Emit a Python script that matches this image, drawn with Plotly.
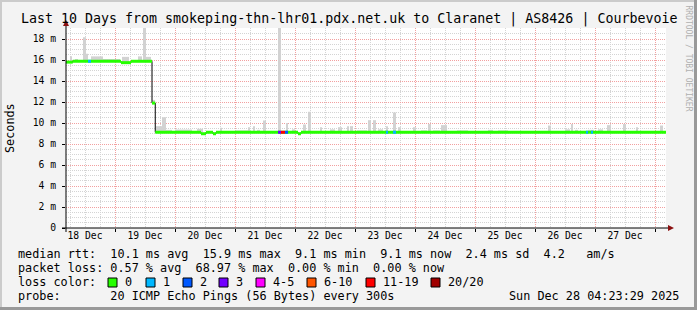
import plotly.graph_objects as go
from datetime import datetime, timedelta

# ---------------- data ----------------
START = datetime(2025, 12, 18, 4, 23, 29)
SPAN_H = 240  # 10 days

day_labels = ["18 Dec", "19 Dec", "20 Dec", "21 Dec", "22 Dec",
              "23 Dec", "24 Dec", "25 Dec", "26 Dec", "27 Dec"]
y_ticks = [0, 2, 4, 6, 8, 10, 12, 14, 16, 18]
y_tick_text = ["0", "2 m", "4 m", "6 m", "8 m", "10 m", "12 m", "14 m", "16 m", "18 m"]

# median rtt step series: hour offset (from START) where value begins, value in ms
median_hours = [0, 2.7, 22, 26, 34.4, 35.7, 54, 56, 58.8, 60, 92.8, 94]
median_ms = [15.80, 15.88, 15.75, 15.88, 11.9, 9.12, 8.98, 9.12, 8.98, 9.12, 8.98, 9.12]

# loss periods (hours) and lost pings out of 20
loss_start_h = [8.8, 84.8, 86.0, 87.6, 128.0, 130.8, 208.0, 210.0]
loss_end_h = [10.0, 86.0, 87.6, 88.8, 128.8, 132.0, 208.8, 210.8]
loss_pings = [1, 3, 14, 2, 1, 1, 1, 1]

# smoke (max of pings) periods: start hour, end hour, top value ms
smoke_start_h = [1.6, 3.6, 6.8, 8.0, 10.0, 14.8, 22.4, 28.8, 30.8, 32.0, 34.4,
                 36.0, 38.4, 40.0, 43.6, 52.4, 61.6, 67.6, 72.8, 74.8, 76.4, 78.8,
                 84.8, 88.0, 90.4, 94.8, 96.8, 101.6, 105.6, 108.8, 112.4, 113.6,
                 116.4, 120.8, 122.8, 124.8, 128.0, 130.8, 132.8, 138.8, 142.0,
                 144.8, 146.8, 150.0, 156.4, 168.8, 172.8, 186.0, 192.8, 194.8,
                 199.6, 202.0, 203.6, 208.8, 212.8, 216.4, 219.6, 222.8, 228.0,
                 233.6, 237.6]
smoke_end_h = [2.4, 4.8, 8.0, 8.8, 14.8, 21.6, 25.2, 30.4, 32.0, 34.0, 35.6,
               38.4, 40.0, 42.4, 50.4, 54.8, 62.4, 72.8, 73.6, 75.6, 77.6, 80.0,
               86.0, 88.8, 91.6, 96.0, 98.0, 102.4, 107.6, 110.4, 113.2, 114.8,
               120.4, 122.0, 124.0, 126.8, 128.8, 132.0, 134.0, 140.0, 144.4,
               146.0, 149.6, 152.4, 160.8, 170.8, 176.8, 188.0, 194.0, 196.8,
               201.6, 202.8, 204.8, 211.2, 214.8, 218.0, 222.4, 224.0, 228.8,
               234.4, 238.8]
smoke_top_ms = [16.36, 16.1, 18.17, 16.6, 16.35, 16.1, 16.3, 16.35, 19.3, 16.3, 12.2,
                9.7, 10.55, 9.35, 9.38, 9.45, 9.54, 9.3, 9.6, 9.7, 9.35, 10.24,
                19.3, 10.0, 9.4, 9.86, 11.07, 9.6, 9.4, 9.6, 9.7, 9.7,
                9.3, 10.27, 10.27, 9.4, 9.7, 11.0, 9.6, 9.6, 9.3,
                9.9, 9.3, 9.8, 9.3, 9.35, 9.3, 9.2, 9.76, 9.2,
                9.4, 9.9, 9.35, 9.35, 9.4, 9.8, 9.2, 9.9, 9.6,
                9.2, 9.76]

legend_line1 = "median rtt:  10.1 ms avg  15.9 ms max  9.1 ms min  9.1 ms now  2.4 ms sd  4.2   am/s"
legend_line2 = "packet loss: 0.57 % avg  68.97 % max  0.00 % min  0.00 % now"
legend_line4 = "probe:       20 ICMP Echo Pings (56 Bytes) every 300s"
stamp = "Sun Dec 28 04:23:29 2025"
title = "Last 10 Days from smokeping-thn-lhr01.pdx.net.uk to Claranet | AS8426 | Courbevoie"
loss_labels = ["0", "1", "2", "3", "4-5", "6-10", "11-19", "20/20"]
loss_colors = ["#26ff00", "#00b8ff", "#0059ff", "#7200ff", "#ff00ff", "#ff5500", "#ff0000", "#a00000"]
loss_upper = [0, 1, 2, 3, 5, 10, 19, 20]

# ---------------- helpers ----------------
MONO = "DejaVu Sans Mono"
W, H = 697, 310
L, R, T, B = 66, 31, 28, 82
PW, PH = W - L - R, H - T - B


def px(x):
    return (x - L) / PW


def py(y):
    return (T + PH - y) / PH


def t(h):
    return START + timedelta(hours=h)


def med_at(h):
    v = median_ms[0]
    for hh, mv in zip(median_hours, median_ms):
        if h >= hh:
            v = mv
    return v


def loss_color(n):
    for up, c in zip(loss_upper, loss_colors):
        if n <= up:
            return c
    return loss_colors[-1]


def nb(s):
    return s.replace(" ", "\u00a0")


fig = go.Figure()

# smoke
bx, by, bb, bw = [], [], [], []
for s, e, top in zip(smoke_start_h, smoke_end_h, smoke_top_ms):
    base = med_at((s + e) / 2)
    bx.append(t((s + e) / 2))
    bb.append(base)
    by.append(top - base)
    bw.append((e - s) * 3600 * 1000)
fig.add_trace(go.Bar(x=bx, y=by, base=bb, width=bw, marker_color="#d2d2d2",
                     marker_line_width=0, hoverinfo="skip", showlegend=False))

# black step line
mx = [t(h) for h in median_hours] + [t(SPAN_H)]
my = median_ms + [median_ms[-1]]
fig.add_trace(go.Scatter(x=mx, y=my, mode="lines", line=dict(color="black", width=1, shape="hv"),
                         hoverinfo="skip", showlegend=False))

# green median segments
gx, gy = [], []
ends = median_hours[1:] + [SPAN_H]
for s, e, v in zip(median_hours, ends, median_ms):
    gx += [t(s), t(e), None]
    gy += [v, v, None]
fig.add_trace(go.Scatter(x=gx, y=gy, mode="lines", line=dict(color=loss_colors[0], width=3),
                         hoverinfo="skip", showlegend=False))

# loss colored segments
for s, e, n in zip(loss_start_h, loss_end_h, loss_pings):
    v = med_at((s + e) / 2)
    fig.add_trace(go.Scatter(x=[t(s), t(e)], y=[v, v], mode="lines",
                             line=dict(color=loss_color(n), width=3),
                             hoverinfo="skip", showlegend=False))

# dummy trace for red day grid axis
fig.add_trace(go.Scatter(x=[t(0)], y=[0], xaxis="x2", mode="markers", marker=dict(opacity=0),
                         hoverinfo="skip", showlegend=False))

noon = [datetime(2025, 12, 18 + i, 12, 0, 0) for i in range(len(day_labels))]
GRID = "#d4d4d4"
MGRID = "#f2a0a0"

fig.update_layout(
    width=W, height=H,
    margin=dict(l=L, r=R, t=T, b=B, pad=0),
    paper_bgcolor="#f3f3f3", plot_bgcolor="white",
    barmode="overlay",
    showlegend=False,
    xaxis=dict(type="date", range=[t(0), t(SPAN_H)], tickmode="array", tickvals=noon,
               ticktext=day_labels, ticks="", showgrid=False, zeroline=False, showline=False,
               tickfont=dict(family=MONO, size=9.7, color="black"),
               minor=dict(tickmode="linear", tick0="2025-12-18 00:00:00", dtick=6 * 3600 * 1000,
                          showgrid=True, gridcolor=GRID, griddash="1px,1px", gridwidth=1, ticks="")),
    xaxis2=dict(type="date", overlaying="x", anchor="y", side="bottom", range=[t(0), t(SPAN_H)],
                tickmode="linear", tick0="2025-12-18 00:00:00", dtick=86400000,
                showticklabels=False, showgrid=True, gridcolor=MGRID, griddash="1px,1px",
                ticks="outside", ticklen=3, tickcolor="black", zeroline=False, showline=False),
    yaxis=dict(range=[0, 19.05], tickmode="array", tickvals=y_ticks, ticktext=y_tick_text,
               showgrid=True, gridcolor=MGRID, griddash="1px,1px", zeroline=False, showline=False,
               ticks="outside", ticklen=3, tickcolor="black", ticklabelstandoff=4,
               tickfont=dict(family=MONO, size=9.7, color="black"),
               minor=dict(tickmode="linear", tick0=0, dtick=0.5, showgrid=True, gridcolor=GRID,
                          griddash="1px,1px", ticks="")),
)

shapes = []
# border shading
shapes.append(dict(type="rect", xref="paper", yref="paper", x0=px(0), x1=px(W), y0=py(0), y1=py(2),
                   fillcolor="#cbcbcb", line_width=0, layer="below"))
shapes.append(dict(type="rect", xref="paper", yref="paper", x0=px(0), x1=px(2), y0=py(0), y1=py(H),
                   fillcolor="#cbcbcb", line_width=0, layer="below"))
shapes.append(dict(type="rect", xref="paper", yref="paper", x0=px(W - 3), x1=px(W), y0=py(0), y1=py(H),
                   fillcolor="#999999", line_width=0, layer="below"))
shapes.append(dict(type="rect", xref="paper", yref="paper", x0=px(0), x1=px(W), y0=py(H - 3), y1=py(H),
                   fillcolor="#999999", line_width=0, layer="below"))
# axes
shapes.append(dict(type="line", xref="paper", yref="paper", x0=0, x1=0, y0=py(232), y1=py(22),
                   line=dict(color="black", width=1)))
shapes.append(dict(type="line", xref="paper", yref="paper", x0=px(62), x1=px(670), y0=0, y1=0,
                   line=dict(color="black", width=1)))
# arrows
shapes.append(dict(type="path", xref="paper", yref="paper",
                   path=f"M {px(63)} {py(26)} L {px(69)} {py(26)} L {px(66)} {py(20)} Z",
                   fillcolor="#8b1010", line_width=0))
shapes.append(dict(type="path", xref="paper", yref="paper",
                   path=f"M {px(668)} {py(225)} L {px(668)} {py(231)} L {px(674)} {py(228)} Z",
                   fillcolor="#8b1010", line_width=0))

annotations = []
annotations.append(dict(text=nb(title), xref="paper", yref="paper", x=px(348.5), y=py(19),
                        xanchor="center", yanchor="middle", showarrow=False,
                        font=dict(family=MONO, size=13.3, color="black")))
annotations.append(dict(text="Seconds", xref="paper", yref="paper", x=px(10), y=py(128),
                        xanchor="center", yanchor="middle", textangle=-90, showarrow=False,
                        font=dict(family=MONO, size=11.8, color="black")))
annotations.append(dict(text=nb("RRDTOOL / TOBI OETIKER"), xref="paper", yref="paper",
                        x=px(688.5), y=py(58), xanchor="center", yanchor="middle", textangle=90,
                        showarrow=False, font=dict(family=MONO, size=8, color="#b0b0b0")))
LEG_FONT = dict(family=MONO, size=11.8, color="black")
for txt, yy in [(legend_line1, 254), (legend_line2, 268), ("loss color:", 282), (legend_line4, 296)]:
    annotations.append(dict(text=nb(txt), xref="paper", yref="paper", x=px(16), y=py(yy),
                            xanchor="left", yanchor="middle", showarrow=False, font=LEG_FONT))
annotations.append(dict(text=nb(stamp), xref="paper", yref="paper", x=px(681), y=py(296),
                        xanchor="right", yanchor="middle", showarrow=False, font=LEG_FONT))

sq_x = [108, 146, 183, 219, 256, 307, 366, 431]
for sx, lab, col in zip(sq_x, loss_labels, loss_colors):
    shapes.append(dict(type="rect", xref="paper", yref="paper", x0=px(sx), x1=px(sx + 9),
                       y0=py(287), y1=py(278), fillcolor=col, line=dict(color="black", width=1)))
    annotations.append(dict(text=lab, xref="paper", yref="paper", x=px(sx + 15), y=py(282),
                            xanchor="left", yanchor="middle", showarrow=False, font=LEG_FONT))

fig.update_layout(shapes=shapes, annotations=annotations)
fig.write_html("out.html")
